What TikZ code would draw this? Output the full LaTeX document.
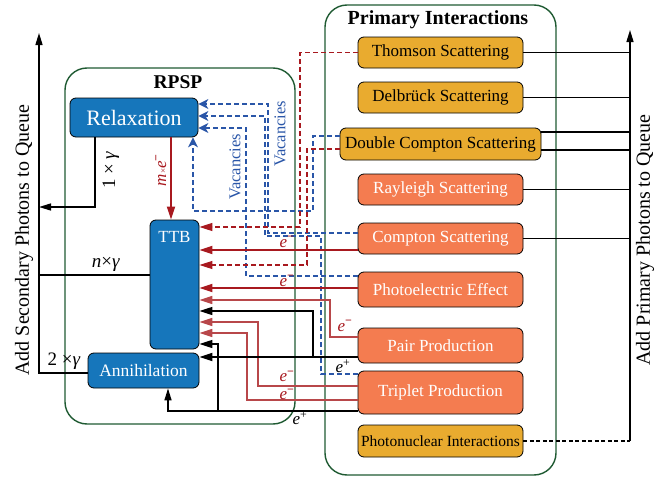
\documentclass[tikz,border=0pt]{standalone}
\usepackage{fontspec}
\setmainfont{Liberation Serif}
\usetikzlibrary{arrows.meta,positioning}

\definecolor{rpspblue}{HTML}{1676BB}
\definecolor{primyellow}{HTML}{E9AB2F}
\definecolor{primorange}{HTML}{F47C50}
\definecolor{framegreen}{HTML}{1F5A32}
\definecolor{vacblue}{HTML}{2A56A8}
\definecolor{elred}{HTML}{A8191F}
\definecolor{elredlight}{HTML}{B8474A}

\newcommand{\elminus}{\textit{e}\textsuperscript{\textbf{−}}}
\newcommand{\elplus}{\textit{e}\textsuperscript{+}}

\begin{document}
\begin{tikzpicture}[x=1pt,y=-1pt,
    box/.style={draw=black, line width=0.8pt, rounded corners=6pt, inner sep=0pt},
    rpspbox/.style={box, fill=rpspblue, text=white},
    primbox/.style={box, minimum width=165, minimum height=31, font=\fontsize{17}{20}\selectfont},
    weakbox/.style={primbox, fill=primyellow, text=black},
    strongbox/.style={primbox, fill=primorange, text=white},
    frame/.style={draw=framegreen, line width=1.4pt, rounded corners=22pt},
    photon/.style={black, line width=1.4pt},
    vac/.style={vacblue, line width=1.2pt, dash pattern=on 5pt off 3pt},
    eldash/.style={elred, line width=1.2pt, dash pattern=on 5pt off 3pt},
    el/.style={elred, line width=1.8pt},
    elweak/.style={elredlight, line width=1.5pt},
    intip/.style={-{Triangle[length=13pt,width=8pt]}},
    vactip/.style={-{Stealth[length=10pt,width=10pt,inset=3pt]}},
    uptip/.style={-{Triangle[length=12pt,width=7pt]}},
    lbl/.style={font=\fontsize{19}{22}\selectfont, inner sep=0pt},
    partlbl/.style={font=\fontsize{17}{18}\selectfont, inner sep=0pt}]

  \useasboundingbox (0,0) rectangle (665,479);

  % frames
  \draw[frame] (65,68) rectangle (295,424);
  \draw[frame] (325,5) rectangle (556,475);
  \node[font=\bfseries\fontsize{19.5}{22}\selectfont] (rpsptitle) at (178,82) {RPSP};
  \node[font=\bfseries\fontsize{20}{22}\selectfont] (primtitle) at (438,20) {Primary Interactions};

  % RPSP boxes
  \node[rpspbox, minimum width=128, minimum height=39, font=\fontsize{22}{26}\selectfont]
      (relax) at (134,117.5) {Relaxation};
  \node[rpspbox, minimum width=49, minimum height=129] (ttb) at (174.5,284.5) {};
  \node[lbl, text=white, font=\fontsize{17}{20}\selectfont, below=12pt of ttb.north] (ttbtext) {TTB};
  \node[rpspbox, minimum width=111, minimum height=35, font=\fontsize{17.5}{20}\selectfont]
      (annih) at (143.5,370.5) {Annihilation};

  % primary interaction boxes
  \node[weakbox] (thom) at (440.5,52.5) {Thomson Scattering};
  \node[weakbox] (delb) at (440.5,97.5) {Delbrück Scattering};
  \node[weakbox, minimum width=201, minimum height=32] (dcomp) at (440.5,144) {Double Compton Scattering};
  \node[strongbox] (rayl) at (440.5,189.5) {Rayleigh Scattering};
  \node[strongbox] (comp) at (440.5,238.5) {Compton Scattering};
  \node[strongbox, minimum height=35] (photo) at (440.5,289.5) {Photoelectric Effect};
  \node[strongbox, minimum height=35] (pair) at (440.5,345.5) {Pair Production};
  \node[strongbox, minimum height=43] (trip) at (440.5,392.5) {Triplet Production};
  \node[weakbox, minimum height=32, font=\fontsize{15.5}{18}\selectfont] (pnuc) at (440.5,441) {Photonuclear Interactions};

  % photon queues
  \coordinate (secq) at (39,33);
  \coordinate (primq) at (630,30);
  \draw[photon, uptip] (annih.west |- 0,373) -| (secq);
  \draw[photon] (ttb.west |- 0,275) -- (secq |- 0,275);
  \draw[photon, uptip] (relax.south -| 95,0) |- (secq |- 0,207);
  \draw[photon, uptip] (pnuc.east -| primq) -- (primq);
  \draw[photon, dash pattern=on 4pt off 2.5pt] (pnuc.east) -- (pnuc.east -| primq);
  \foreach \n in {thom,delb,rayl,comp}
    \draw[photon] (\n.east) -- (\n.east -| primq);
  \draw[photon] (dcomp.east |- 0,132) -- (primq |- 0,132);
  \draw[photon] (dcomp.east |- 0,150) -- (primq |- 0,150);

  % vacancies
  \draw[vac, vactip] (dcomp.west |- 0,136) -| (313,211) -| (relax.south -| 193,0);
  \draw[vac, vactip] (comp.west |- 0,233) -| (268,104) -- (relax.east |- 0,104);
  \draw[vac, vactip] (trip.west |- 0,374) -| (321,236) -| (265,116) -- (relax.east |- 0,116);
  \draw[vac, vactip] (photo.west |- 0,276) -| (246,128) -- (relax.east |- 0,128);

  % electrons
  \draw[eldash, intip] (thom.west) -| (300,227) -- (ttb.east |- 0,227);
  \draw[eldash, intip] (dcomp.west |- 0,149) -| (307,265) -- (ttb.east |- 0,265);
  \draw[el, intip] (comp.west |- 0,250) -- (ttb.east |- 0,250);
  \draw[el, intip] (photo.west |- 0,288) -- (ttb.east |- 0,288);
  \draw[elweak, intip] (pair.west |- 0,337) -| (330,300) -- (ttb.east |- 0,300);
  \draw[elweak, intip] (trip.west |- 0,386) -| (258,322) -- (ttb.east |- 0,322);
  \draw[elweak, intip] (trip.west |- 0,400) -| (247,333) -- (ttb.east |- 0,333);
  \draw[el, intip] (relax.south -| 171,0) -- (ttb.north -| 171,0);

  % positrons
  \coordinate (pairsplit) at (313,357);
  \coordinate (tripsplit) at (218,411);
  \draw[photon, line width=1.9pt, intip] (pair.west |- 0,357) -- (annih.east |- 0,357);
  \draw[photon, intip] (pairsplit) |- (ttb.east |- 0,311);
  \draw[photon, uptip] (trip.west |- 0,411) -| (annih.south -| 168,0);
  \draw[photon, intip] (tripsplit) |- (ttb.east |- 0,344);

  % labels
  \node[rotate=90, font=\fontsize{20}{24}\selectfont] (seclabel) at (24,240) {Add Secondary Photons to Queue};
  \node[rotate=90, font=\fontsize{20}{24}\selectfont] (primlabel) at (645,240) {Add Primary Photons to Queue};
  \node[lbl, rotate=90] (onegamma) at (111,170) {1 × \textit{γ}};
  \node[lbl, rotate=90, text=elred, font=\fontsize{17}{20}\selectfont] (melec) at (161,170) {\textit{m}{\small×}\elminus};
  \node[lbl] (ngamma) at (106,264) {\textit{n}×\textit{γ}};
  \node[lbl] (twogamma) at (64,361) {2 ×\textit{γ}};
  \node[lbl, rotate=90, text=vacblue, font=\fontsize{16.5}{19}\selectfont] (vaclabela) at (235,167) {Vacancies};
  \node[lbl, rotate=90, text=vacblue, font=\fontsize{16.5}{19}\selectfont] (vaclabelb) at (280,134) {Vacancies};
  \foreach \nm/\x/\y in {ecomp/287/242, ephoto/287/281, epair/345/326, etripa/287/376.5, etripb/287/394.5}
    \node[partlbl, text=elred] (\nm) at (\x,\y) {\elminus};
  \node[partlbl] (ppair) at (343,366) {\elplus};
  \node[partlbl] (ptrip) at (300,418) {\elplus};

\end{tikzpicture}
\end{document}
